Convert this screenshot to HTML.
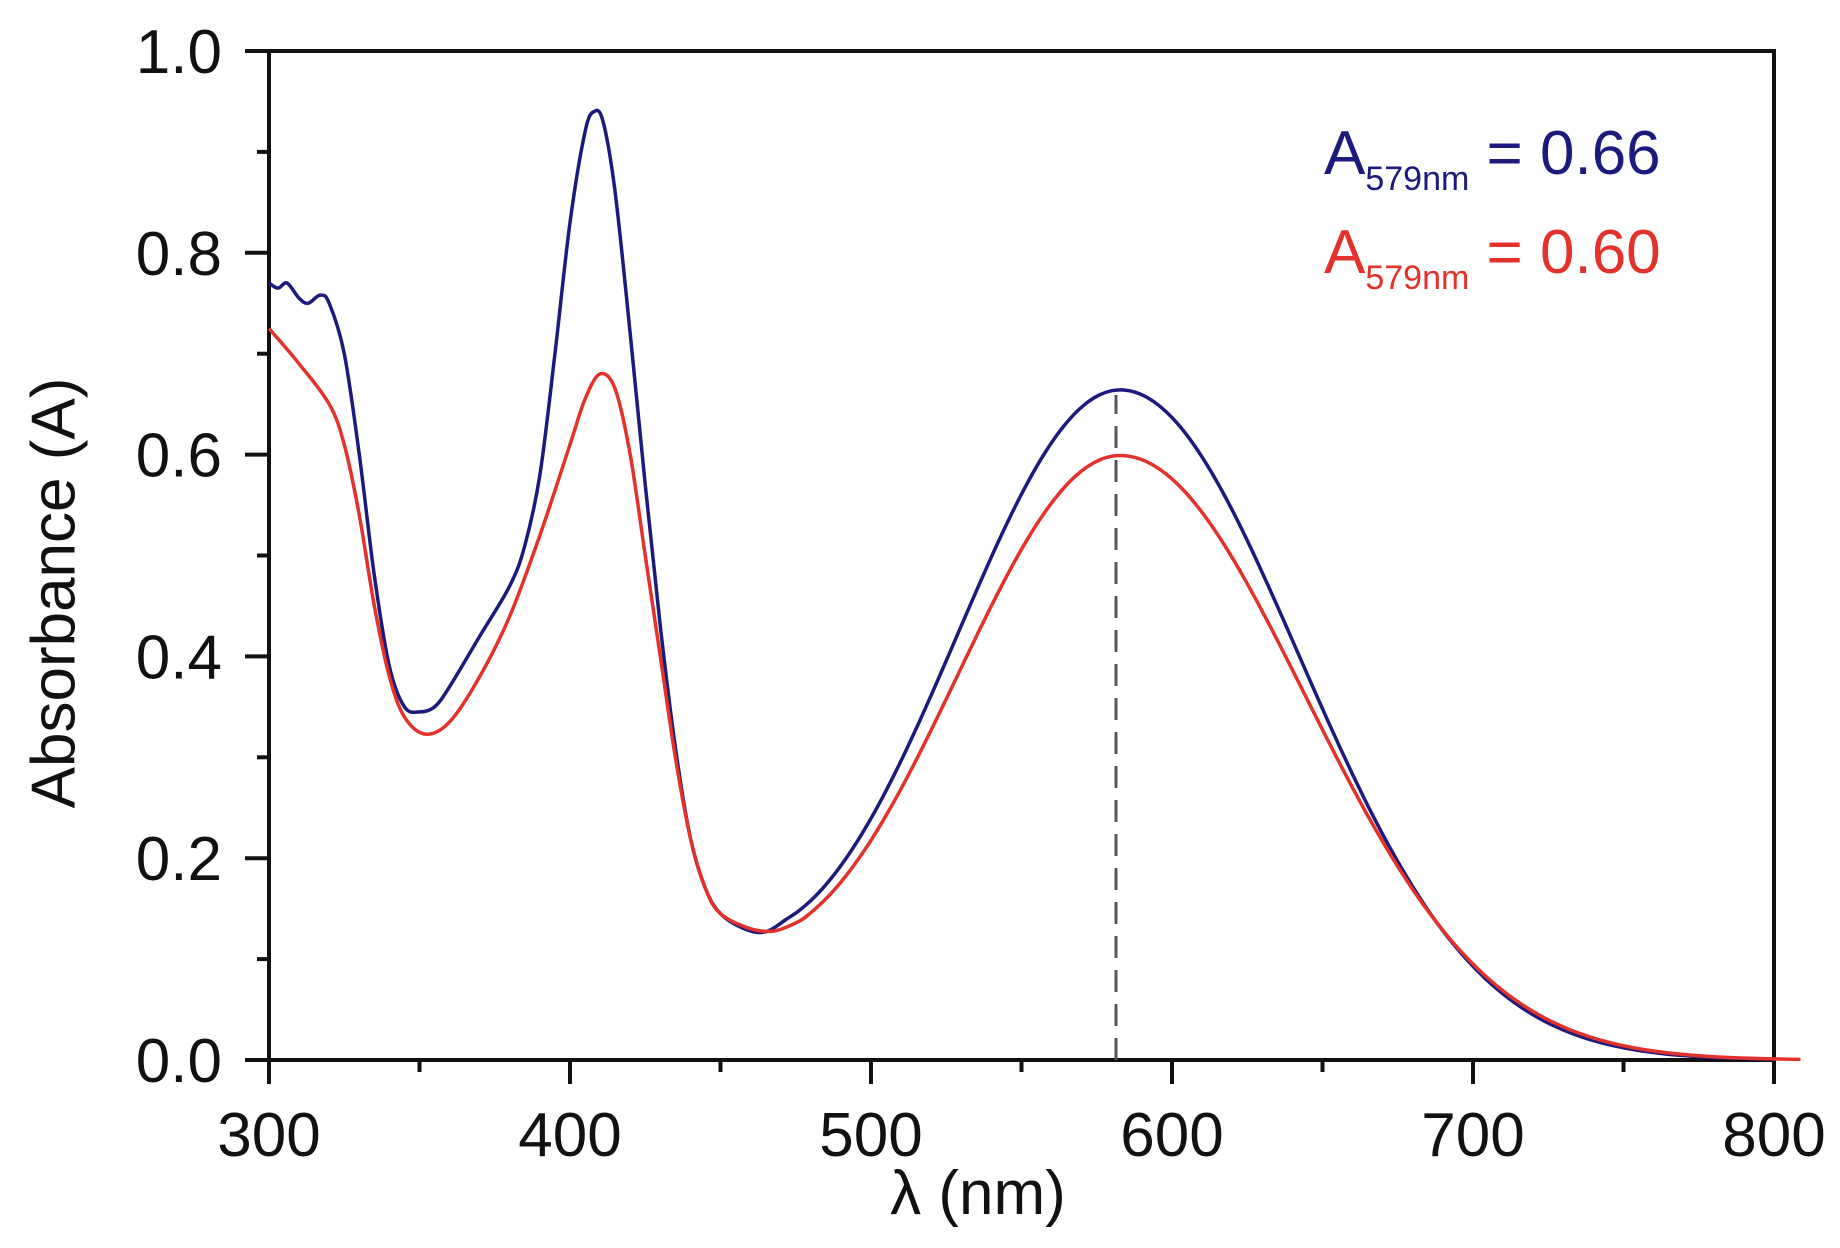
<!DOCTYPE html>
<html><head><meta charset="utf-8"><style>
html,body{margin:0;padding:0;background:#fff;}
svg{display:block;}
text{font-family:"Liberation Sans",sans-serif;}
</style></head><body>
<svg id="s" width="1840" height="1248" viewBox="0 0 1840 1248" xmlns="http://www.w3.org/2000/svg">
<g id="ax" stroke="#111" stroke-width="4" fill="none">
<rect x="269" y="51" width="1505" height="1009"/>
</g>
<g id="lab" font-size="62" fill="#111"></g>
<line x1="1116" y1="1060" x2="1116" y2="395" stroke="#555" stroke-width="3" stroke-dasharray="22,12"/>
<path id="blue" fill="none" stroke="#1c1a7c" stroke-width="3.5"/>
<path id="red" fill="none" stroke="#e3312b" stroke-width="3.5"/>
<text x="58" y="593" font-size="62" fill="#111" text-anchor="middle" transform="rotate(-90 58 593)" dominant-baseline="middle">Absorbance (A)</text>
<text x="978" y="1214" font-size="62" fill="#111" text-anchor="middle">λ (nm)</text>
<text x="1324" y="174" font-size="62" fill="#1c1a7c">A<tspan font-size="34" dy="16">579nm</tspan><tspan dy="-16"> = 0.66</tspan></text>
<text x="1324" y="273" font-size="62" fill="#e3312b">A<tspan font-size="34" dy="16">579nm</tspan><tspan dy="-16"> = 0.60</tspan></text>
</svg>
<script>
const X=l=>269+(l-300)*3.01, Y=a=>1060-a*1009;
const NS="http://www.w3.org/2000/svg";
const ax=document.getElementById('ax'), lab=document.getElementById('lab');
function ln(x1,y1,x2,y2){const e=document.createElementNS(NS,'line');e.setAttribute('x1',x1);e.setAttribute('y1',y1);e.setAttribute('x2',x2);e.setAttribute('y2',y2);ax.appendChild(e);}
function tx(x,y,t,a){const e=document.createElementNS(NS,'text');e.setAttribute('x',x);e.setAttribute('y',y);e.setAttribute('text-anchor',a);e.textContent=t;lab.appendChild(e);}
for(let l=300;l<=800;l+=50){const big=l%100==0;ln(X(l),1060,X(l),1060+(big?24:12));if(big)tx(X(l),1156,l,'middle');}
for(let i=0;i<=10;i++){const a=i/10,big=i%2==0;ln(269,Y(a),269-(big?24:12),Y(a));if(big)tx(222,Y(a)+22,a.toFixed(1),'end');}
function path(d){const p=d.map(v=>[X(v[0]),Y(v[1])]);let s='M'+p[0][0]+','+p[0][1];
for(let i=0;i<p.length-1;i++){const p0=p[Math.max(0,i-1)],p1=p[i],p2=p[i+1],p3=p[Math.min(p.length-1,i+2)];
s+=' C'+(p1[0]+(p2[0]-p0[0])/6)+','+(p1[1]+(p2[1]-p0[1])/6)+' '+(p2[0]-(p3[0]-p1[0])/6)+','+(p2[1]-(p3[1]-p1[1])/6)+' '+p2[0]+','+p2[1];}return s;}
function band(a,start,end,wr){const o=[];for(let l=start;l<=end;l+=4){const w=l<583?56:wr;const g=a*Math.exp(-Math.pow((l-583)/w,2)/2)+0.05*Math.exp(-(l-470)/30);o.push([l,g]);}o.push([end,o[o.length-1][1]]);return o;}
const B=[[300,0.77],[303,0.765],[306,0.77],[310,0.755],[313,0.75],[317,0.758],[320,0.75],[325,0.70],[330,0.60],[335,0.48],[340,0.39],[345,0.35],[350,0.345],[355,0.35],[360,0.37],[370,0.42],[380,0.47],[385,0.51],[390,0.58],[395,0.70],[400,0.83],[405,0.92],[408,0.94],[411,0.93],[415,0.86],[420,0.72],[425,0.57],[430,0.43],[435,0.31],[440,0.22],[445,0.17],[450,0.145],[458,0.13],[465,0.127]].concat(band(0.663,472,800,59));
const R=[[300,0.725],[310,0.69],[320,0.65],[325,0.61],[330,0.54],[335,0.45],[340,0.38],[345,0.34],[352,0.323],[360,0.335],[370,0.38],[380,0.44],[390,0.52],[400,0.61],[405,0.655],[410,0.68],[415,0.665],[420,0.60],[425,0.50],[430,0.40],[435,0.30],[440,0.22],[445,0.17],[450,0.145],[460,0.13],[468,0.128]].concat(band(0.598,476,808,61));
document.getElementById('blue').setAttribute('d',path(B));
document.getElementById('red').setAttribute('d',path(R));
</script>
</body></html>
